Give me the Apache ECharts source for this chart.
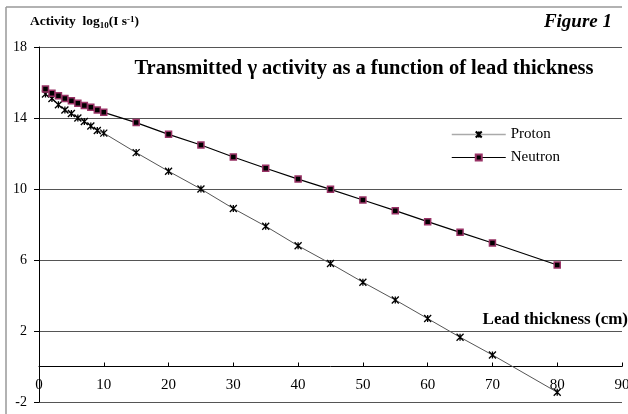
<!DOCTYPE html>
<html>
<head>
<meta charset="utf-8">
<script src="https://cdn.jsdelivr.net/npm/echarts@6/dist/echarts.min.js"></script>
<style>html,body{margin:0;padding:0;background:#fff;}#c{width:628px;height:414px;}</style>
</head>
<body>
<div id="c"></div>
<script>
var thickness = [1,2,3,4,5,6,7,8,9,10,15,20,25,30,35,40,45,50,55,60,65,70,80];
var proton = [15.35,15.1,14.75,14.45,14.25,14.0,13.8,13.55,13.3,13.15,12.05,11.0,10.0,8.9,7.9,6.8,5.8,4.75,3.75,2.7,1.65,0.65,-1.45];
var neutron = [15.63,15.4,15.25,15.1,14.97,14.83,14.7,14.6,14.45,14.32,13.74,13.08,12.48,11.8,11.17,10.56,9.98,9.38,8.78,8.16,7.56,6.96,5.72];
var seriesNames = ['Proton','Neutron'];
var chartTitle = 'Transmitted \u03b3 activity as a function of lead thickness';
var xAxisTitle = 'Lead thickness (cm)';
var figureLabel = 'Figure 1';

function pairs(xs, ys){ return xs.map(function(x,i){ return [x, ys[i]]; }); }

var serif = '"Liberation Serif","Times New Roman",serif';
var chart = echarts.init(document.getElementById('c'), null, {renderer:'canvas'});
chart.setOption({
  animation:false,
  backgroundColor:'#fff',
  grid:{left:39,right:6,top:47,bottom:12,outerBoundsMode:'none',containLabel:false},
  xAxis:{
    type:'value',min:0,max:90,interval:10,offset:-35.5,
    axisLine:{onZero:false,lineStyle:{color:'#000',width:1}},
    axisTick:{inside:true,length:4,lineStyle:{color:'#000'}},
    axisLabel:{margin:11,color:'#000',fontFamily:serif,fontSize:15},
    splitLine:{show:false}
  },
  yAxis:{
    type:'value',min:-2,max:18,interval:4,
    axisLine:{show:true,onZero:false,lineStyle:{color:'#000',width:1}},
    axisTick:{show:true,inside:false,length:5,lineStyle:{color:'#000'}},
    axisLabel:{margin:12,color:'#000',fontFamily:serif,fontSize:14},
    splitLine:{show:true,lineStyle:{color:'#555',width:1.2}}
  },
  legend:{
    orient:'vertical',left:451,top:127,padding:0,itemWidth:54,itemHeight:7.5,itemGap:8,
    textStyle:{fontFamily:serif,fontSize:15,color:'#000'},
    data:[{name:seriesNames[0],lineStyle:{color:'#aaa',width:1.5}},{name:seriesNames[1],lineStyle:{width:1}}]
  },
  series:[
    {name:seriesNames[0],type:'line',data:pairs(thickness,proton),
     symbol:'path://M0,0L10,10M10,0L0,10M5,0L5,10',symbolSize:7,
     lineStyle:{color:'#555',width:1},
     itemStyle:{color:'#000',borderColor:'#000',borderWidth:1.3},
     emphasis:{disabled:true},z:2},
    {name:seriesNames[1],type:'line',data:pairs(thickness,neutron),
     symbol:'rect',symbolSize:6,
     lineStyle:{color:'#000',width:1.2},
     itemStyle:{color:'#000',borderColor:'#993366',borderWidth:1.5},
     emphasis:{disabled:true},z:3}
  ],
  graphic:[
    {type:'line',shape:{x1:6,y1:7,x2:6,y2:414},style:{stroke:'#999',lineWidth:1.5},silent:true},
    {type:'line',shape:{x1:6,y1:7,x2:622,y2:7},style:{stroke:'#999',lineWidth:1.5},silent:true},
    {type:'text',x:30,y:22,silent:true,style:{
      text:'{b|Activity  log}{s|10}{b|(I s}{p|-1}{b|)}',
      verticalAlign:'middle',
      rich:{
        b:{fontFamily:serif,fontWeight:'bold',fontSize:13.5,color:'#000',lineHeight:18,verticalAlign:'middle'},
        s:{fontFamily:serif,fontWeight:'bold',fontSize:9,color:'#000',lineHeight:18,verticalAlign:'bottom',padding:[0,0,1,0]},
        p:{fontFamily:serif,fontWeight:'bold',fontSize:9,color:'#000',lineHeight:18,verticalAlign:'top',padding:[2,0,0,0]}
      }}},
    {type:'text',x:612,y:22,silent:true,style:{text:figureLabel,fontFamily:serif,fontWeight:'bold',fontStyle:'italic',fontSize:19,fill:'#000',align:'right',verticalAlign:'middle'}},
    {type:'text',x:364,y:69,silent:true,style:{text:chartTitle,fontFamily:serif,fontWeight:'bold',fontSize:20.5,fill:'#000',align:'center',verticalAlign:'middle'}},
    {type:'text',x:628,y:320,silent:true,style:{text:xAxisTitle,fontFamily:serif,fontWeight:'bold',fontSize:17,fill:'#000',align:'right',verticalAlign:'middle'}}
  ]
});
</script>
</body>
</html>
